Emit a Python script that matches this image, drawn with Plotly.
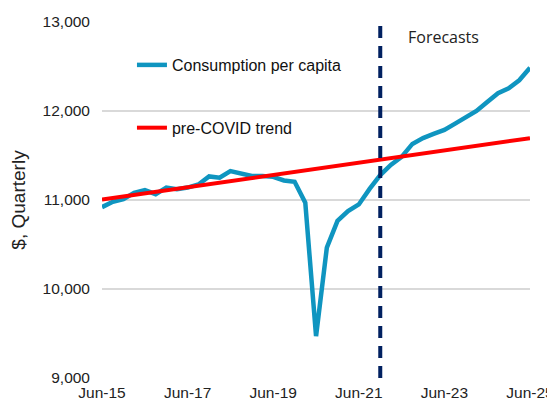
import plotly.graph_objects as go

# quarterly dates, Jun-15 .. Jun-25
quarters = [
    "2015-06-01", "2015-09-01", "2015-12-01", "2016-03-01",
    "2016-06-01", "2016-09-01", "2016-12-01", "2017-03-01",
    "2017-06-01", "2017-09-01", "2017-12-01", "2018-03-01",
    "2018-06-01", "2018-09-01", "2018-12-01", "2019-03-01",
    "2019-06-01", "2019-09-01", "2019-12-01", "2020-03-01",
    "2020-06-01", "2020-09-01", "2020-12-01", "2021-03-01",
    "2021-06-01", "2021-09-01", "2021-12-01", "2022-03-01",
    "2022-06-01", "2022-09-01", "2022-12-01", "2023-03-01",
    "2023-06-01", "2023-09-01", "2023-12-01", "2024-03-01",
    "2024-06-01", "2024-09-01", "2024-12-01", "2025-03-01",
    "2025-06-01",
]
consumption = [
    10920, 10980, 11010, 11080, 11110, 11065, 11140, 11120,
    11140, 11175, 11265, 11250, 11325, 11300, 11270, 11270,
    11260, 11220, 11205, 10970, 9470, 10465, 10765, 10875,
    10950, 11125, 11280, 11395, 11485, 11630, 11695, 11742,
    11787, 11858, 11928, 12000, 12102, 12200, 12255, 12345,
    12485,
]
trend_dates = ["2015-06-01", "2025-06-01"]
trend_values = [11005, 11695]
forecast_start = "2021-12-01"
tick_dates = ["2015-06-01", "2017-06-01", "2019-06-01", "2021-06-01", "2023-06-01", "2025-06-01"]
tick_labels = ["Jun-15", "Jun-17", "Jun-19", "Jun-21", "Jun-23", "Jun-25"]

font = "Liberation Sans, Arial, sans-serif"

fig = go.Figure()
fig.add_trace(go.Scatter(
    x=quarters, y=consumption, mode="lines", name="Consumption per capita",
    legendgroup="a", line=dict(color="#0f95c0", width=4.5),
))
fig.add_trace(go.Scatter(
    x=trend_dates, y=trend_values, mode="lines", name="pre-COVID trend",
    legendgroup="b", line=dict(color="#ff0000", width=4),
))

fig.add_shape(
    type="line", xref="x", yref="y", x0=forecast_start, x1=forecast_start,
    y0=9000, y1=13000, line=dict(color="#002060", width=4, dash="12px,8px"),
)
fig.add_annotation(
    x=0.71, y=0.995, xref="paper", yref="paper", xanchor="left", yanchor="top",
    text="Forecasts", showarrow=False,
    font=dict(family="Open Sans, sans-serif", size=16, color="#222"),
)

# page body has an 8px margin, so the figure is a bit smaller than the window
fig.update_layout(
    width=547, height=397,
    margin=dict(l=94, r=25, t=14, b=27),
    plot_bgcolor="white", paper_bgcolor="white",
    font=dict(family=font, size=15.5, color="#222"),
    showlegend=True,
    legend=dict(
        x=0.07, y=0.927, xanchor="left", yanchor="top",
        bgcolor="rgba(0,0,0,0)", tracegroupgap=39,
        font=dict(size=16, color="#111"),
    ),
    xaxis=dict(
        type="date", range=["2015-06-01", "2025-06-01"],
        tickvals=tick_dates, ticktext=tick_labels, automargin=False,
        showgrid=False, zeroline=False, showline=False, ticks="",
        ticklabelstandoff=3,
    ),
    yaxis=dict(
        range=[9000, 13000], dtick=1000, tickformat=",", automargin=False,
        showgrid=True, gridcolor="#d9d9d9", gridwidth=1.5,
        zeroline=False, showline=False, ticks="", ticklabelstandoff=11,
        title=dict(text="$, Quarterly", standoff=12),
    ),
)

fig.write_html("out.html")
